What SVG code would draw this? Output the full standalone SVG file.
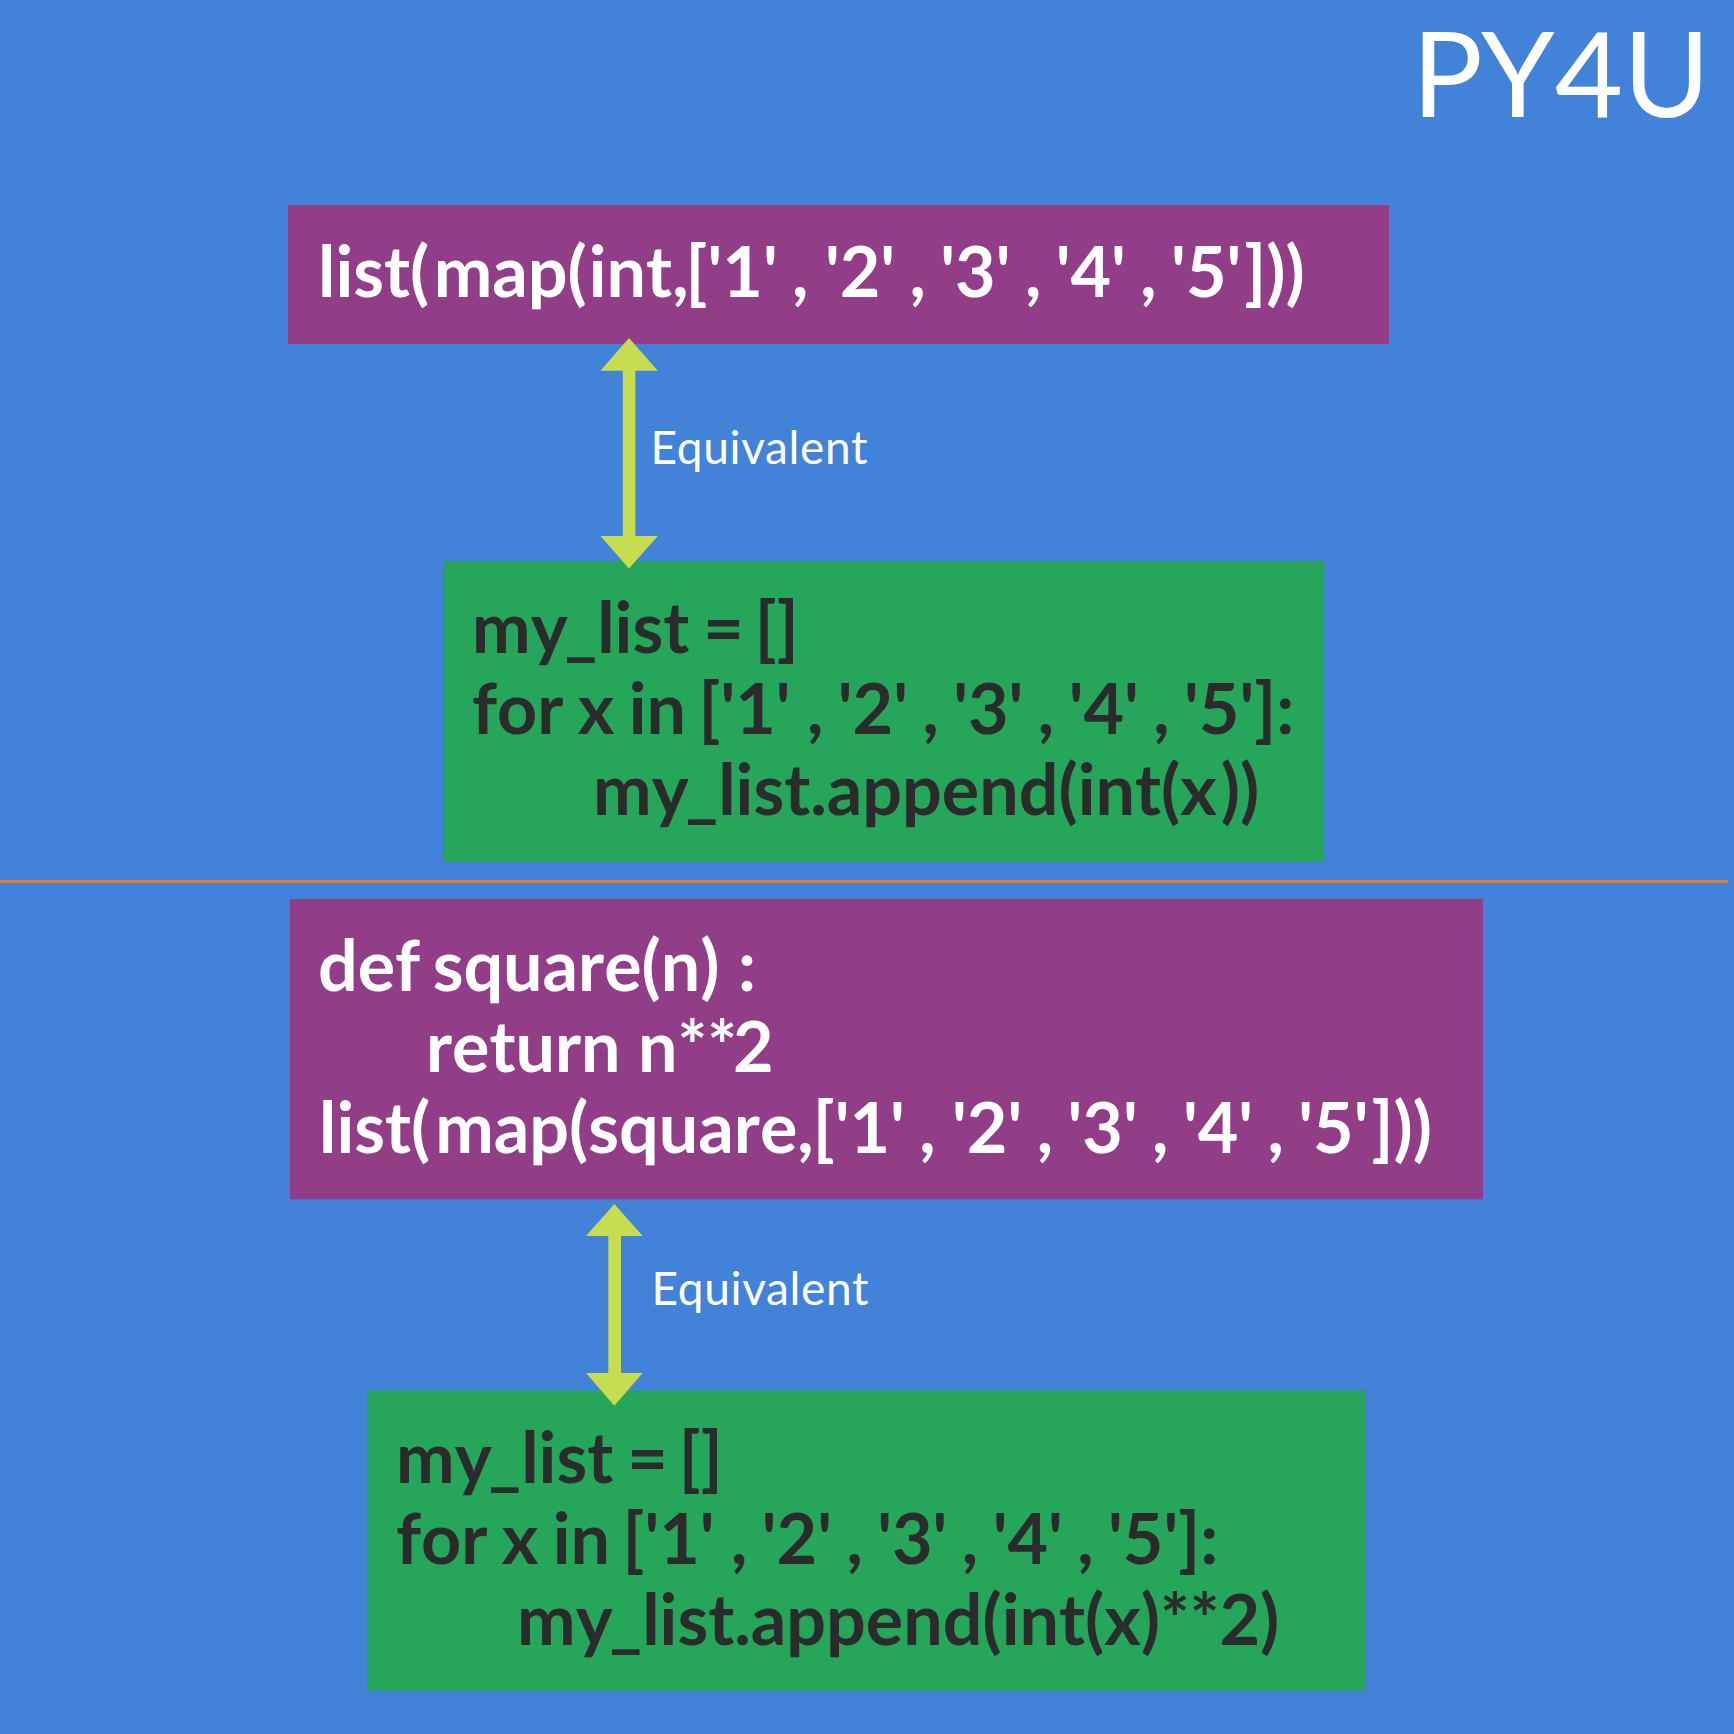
<svg xmlns="http://www.w3.org/2000/svg" width="1734" height="1734" viewBox="0 0 1734 1734">
<style>
.code{font-family:Lato,"Liberation Sans",sans-serif;font-weight:700;font-size:70px;font-kerning:none;letter-spacing:0;word-spacing:-2.6px}
.tight{word-spacing:-6px}
.w{fill:#fff}.d{fill:#2b2b2b}
.eq{font-family:Lato,"Liberation Sans",sans-serif;font-size:46px;fill:#fff;letter-spacing:.65px}
.ar{fill:#c8dc50}
</style>
<rect width="1734" height="1734" fill="#4283d9"/>
<text x="1412" y="117" style="font-family:Lato,sans-serif;font-size:118px" fill="#fff">PY4U</text>
<rect x="0" y="880" width="1728" height="3" fill="#e67e22"/>
<g id="n1"><rect x="288" y="205" width="1101" height="139" fill="#923d87"/><text class="code w" x="318" y="296.500">list(<tspan dx="4.500">map(</tspan><tspan dx="2">int,</tspan><tspan dx="-3">['1' , </tspan><tspan dx="2">'2' , '3' , '4' , '5'</tspan><tspan dx="3">]))</tspan></text></g>
<g id="n2"><rect x="443" y="561" width="881.300" height="300.700" fill="#26a65b"/><text class="code d tight" x="472" y="653">my<tspan dx="-3">_list</tspan><tspan dx="3"> = []</tspan></text><text class="code d" x="472" y="734">for x in <tspan dx="-2">['1'</tspan><tspan dx="2"> , '2' , '3' , '4' , '5']:</tspan></text><text class="code d" x="593" y="815">my<tspan dx="-3">_list.append(int(x</tspan><tspan dx="4">))</tspan></text></g>
<g id="n3"><rect x="290" y="899" width="1193" height="300.300" fill="#923d87"/><text class="code w" x="318" y="991">def <tspan dx="-2">square(n) </tspan><tspan dx="4">:</tspan></text><text class="code w" x="426" y="1072">return <tspan dx="3">n**</tspan><tspan dx="-4">2</tspan></text><text class="code w" x="319" y="1153">list(<tspan dx="5">map(square,</tspan><tspan dx="-1">['1' , </tspan><tspan dx="2">'2' , '3' , '4' , '5'</tspan><tspan dx="3">]))</tspan></text></g>
<g id="n4"><rect x="367" y="1390.500" width="999" height="300" fill="#26a65b"/><text class="code d tight" x="396" y="1483">my<tspan dx="-3">_list</tspan><tspan dx="3"> = []</tspan></text><text class="code d" x="396" y="1564">for x in <tspan dx="-2">['1'</tspan><tspan dx="2"> , '2' , '3' , '4' , '5']:</tspan></text><text class="code d" x="517" y="1645">my<tspan dx="-3">_list.append(int(x)**2)</tspan></text></g>
<g id="connectors">
<path class="ar" d="M629 338L657.800 370.700H635.300V536H657.800L629 568.500L600.400 536H622.800V370.700H600.400Z"/>
<path class="ar" d="M614.300 1204L642.700 1236H621V1373H642.700L614.300 1405.700L586 1373H608.300V1236H586Z"/>
</g>
<text class="eq" x="650.500" y="464">Equivalent</text>
<text class="eq" x="651.500" y="1305">Equivalent</text>
</svg>
